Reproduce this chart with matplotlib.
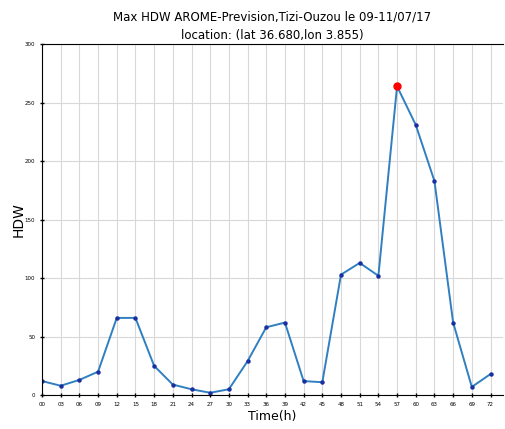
import numpy as np
import matplotlib.pyplot as plt

# forecast hours and max HDW values
hours = np.arange(0, 75, 3)
hdw = [12, 8, 13, 20, 66, 66, 25, 9, 5, 2, 5, 29, 58, 62, 12, 11,
       103, 113, 102, 264, 231, 183, 62, 7, 18]
tick_labels = ["%02d" % h for h in hours]

fig = plt.figure(figsize=(5.06, 4.29), dpi=100)
ax = fig.add_axes([0.083, 0.079, 0.911, 0.818])

ax.plot(hours, hdw, color="#2f7fc1", lw=1.4, marker="o", ms=2.2,
        mfc="#1a2fa0", mec="#1a2fa0")
imax = int(np.argmax(hdw))
ax.plot(hours[imax], hdw[imax], "o", color="red", ms=5)

ax.set_xlim(0, 74)
ax.set_ylim(0, 300)
ax.set_xticks(hours)
ax.set_xticklabels(tick_labels)
ax.set_yticks(np.arange(0, 301, 50))
ax.tick_params(labelsize=4, length=3, direction="inout", width=1)
ax.grid(True, color="#d8d8d8", lw=0.8)
ax.spines["right"].set_visible(False)

ax.set_title("Max HDW AROME-Prevision,Tizi-Ouzou le 09-11/07/17\n"
             "location: (lat 36.680,lon 3.855)", fontsize=8.5,
             linespacing=1.5, pad=4)
ax.set_xlabel("Time(h)", fontsize=9, labelpad=2)
ax.set_ylabel("HDW", fontsize=10, labelpad=-1)

fig.savefig("out.png", dpi=100)
